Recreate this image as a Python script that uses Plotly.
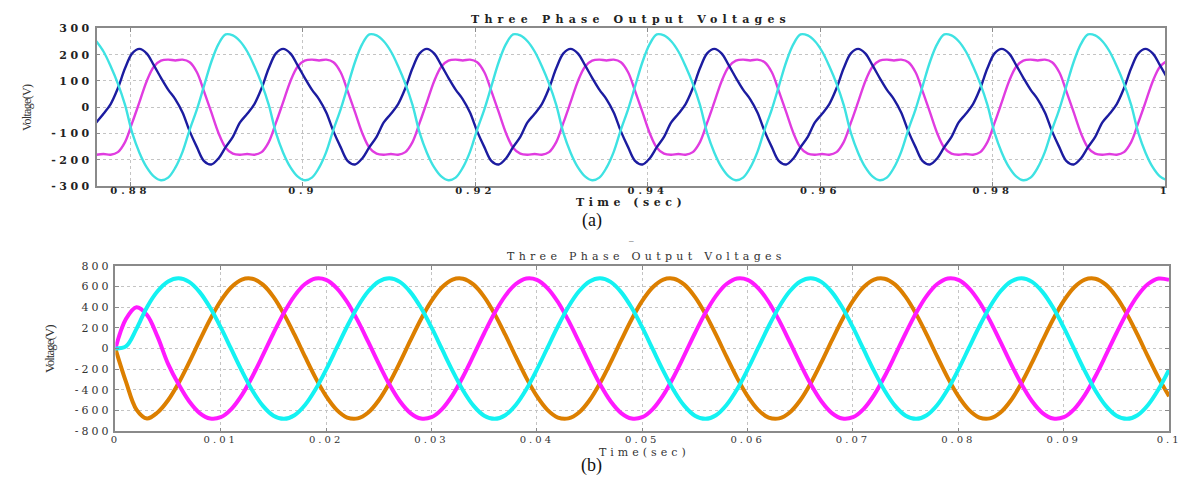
import numpy as np
import plotly.graph_objects as go

# ---- (a) 60 Hz output, sampled every 1/1200 s from t0 ----
TOP_T0 = 0.87605
TOP_DT = 1 / 1200

top_blue = [
    -58, -25, 12, 72, 148, 205,
    222, 205, 160, 112, 67, 30, -20, -92, -152, -205, -218, -195, -152, -113, -58, -25, 12, 72, 148, 205,
    222, 205, 160, 112, 67, 30, -20, -92, -152, -205, -218, -195, -152, -113, -58, -25, 12, 72, 148, 205,
    222, 205, 160, 112, 67, 30, -20, -92, -152, -205, -218, -195, -152, -113, -58, -25, 12, 72, 148, 205,
    222, 205, 160, 112, 67, 30, -20, -92, -152, -205, -218, -195, -152, -113, -58, -25, 12, 72, 148, 205,
    222, 205, 160, 112, 67, 30, -20, -92, -152, -205, -218, -195, -152, -113, -58, -25, 12, 72, 148, 205,
    222, 205, 160, 112, 67, 30, -20, -92, -152, -205, -218, -195, -152, -113, -58, -25, 12, 72, 148, 205,
    222, 205, 160, 112, 67, 30, -20, -92, -152, -205, -218, -195, -152, -113, -58, -25, 12, 72, 148, 205,
    222, 205, 160, 112,
]
top_magenta = [
    -181, -178, -181, -171, -133, -59,
    19, 98, 154, 177, 181, 178, 181, 171, 133, 59, -19, -98, -154, -177, -181, -178, -181, -171, -133, -59,
    19, 98, 154, 177, 181, 178, 181, 171, 133, 59, -19, -98, -154, -177, -181, -178, -181, -171, -133, -59,
    19, 98, 154, 177, 181, 178, 181, 171, 133, 59, -19, -98, -154, -177, -181, -178, -181, -171, -133, -59,
    19, 98, 154, 177, 181, 178, 181, 171, 133, 59, -19, -98, -154, -177, -181, -178, -181, -171, -133, -59,
    19, 98, 154, 177, 181, 178, 181, 171, 133, 59, -19, -98, -154, -177, -181, -178, -181, -171, -133, -59,
    19, 98, 154, 177, 181, 178, 181, 171, 133, 59, -19, -98, -154, -177, -181, -178, -181, -171, -133, -59,
    19, 98, 154, 177, 181, 178, 181, 171, 133, 59, -19, -98, -154, -177, -181, -178, -181, -171, -133, -59,
    19, 98, 154, 177,
]
top_cyan = [
    251, 212, 156, 90, 9, -98,
    -173, -228, -263, -278, -268, -230, -170, -85, -8, 82, 172, 240, 277, 273, 251, 212, 156, 90, 9, -98,
    -173, -228, -263, -278, -268, -230, -170, -85, -8, 82, 172, 240, 277, 273, 251, 212, 156, 90, 9, -98,
    -173, -228, -263, -278, -268, -230, -170, -85, -8, 82, 172, 240, 277, 273, 251, 212, 156, 90, 9, -98,
    -173, -228, -263, -278, -268, -230, -170, -85, -8, 82, 172, 240, 277, 273, 251, 212, 156, 90, 9, -98,
    -173, -228, -263, -278, -268, -230, -170, -85, -8, 82, 172, 240, 277, 273, 251, 212, 156, 90, 9, -98,
    -173, -228, -263, -278, -268, -230, -170, -85, -8, 82, 172, 240, 277, 273, 251, 212, 156, 90, 9, -98,
    -173, -228, -263, -278, -268, -230, -170, -85, -8, 82, 172, 240, 277, 273, 251, 212, 156, 90, 9, -98,
    -173, -228, -263, -278,
]

# ---- (b) 50 Hz output, sampled every 1 ms from 0 ----
BOT_T0 = 0.0
BOT_DT = 0.001

bot_orange = [
    0, -320, -590, -676, -618,
    -500, -333, -134, 79, 284, 461, 593, 667, 675, 618, 500, 333, 134, -79, -284,
    -461, -593, -667, -675, -618, -500, -333, -134, 79, 284, 461, 593, 667, 675, 618, 500, 333, 134, -79, -284,
    -461, -593, -667, -675, -618, -500, -333, -134, 79, 284, 461, 593, 667, 675, 618, 500, 333, 134, -79, -284,
    -461, -593, -667, -675, -618, -500, -333, -134, 79, 284, 461, 593, 667, 675, 618, 500, 333, 134, -79, -284,
    -461, -593, -667, -675, -618, -500, -333, -134, 79, 284, 461, 593, 667, 675, 618, 500, 333, 134, -79, -284,
    -461,
]
bot_magenta = [
    0, 285, 400, 325, 115,
    -148, -346, -510, -624, -677, -664, -585, -450, -270, -64, 148, 346, 510, 624, 677,
    664, 585, 450, 270, 64, -148, -346, -510, -624, -677, -664, -585, -450, -270, -64, 148, 346, 510, 624, 677,
    664, 585, 450, 270, 64, -148, -346, -510, -624, -677, -664, -585, -450, -270, -64, 148, 346, 510, 624, 677,
    664, 585, 450, 270, 64, -148, -346, -510, -624, -677, -664, -585, -450, -270, -64, 148, 346, 510, 624, 677,
    664, 585, 450, 270, 64, -148, -346, -510, -624, -677, -664, -585, -450, -270, -64, 148, 346, 510, 624, 677,
    664,
]
bot_cyan = [
    0, 20, 190, 400,
    554, 649, 680, 645, 546, 394, 204, -6, -216, -405, -554, -649, -680, -645, -546, -394,
    -204, 6, 216, 405, 554, 649, 680, 645, 546, 394, 204, -6, -216, -405, -554, -649, -680, -645, -546, -394,
    -204, 6, 216, 405, 554, 649, 680, 645, 546, 394, 204, -6, -216, -405, -554, -649, -680, -645, -546, -394,
    -204, 6, 216, 405, 554, 649, 680, 645, 546, 394, 204, -6, -216, -405, -554, -649, -680, -645, -546, -394,
    -204, 6, 216, 405, 554, 649, 680, 645, 546, 394, 204, -6, -216, -405, -554, -649, -680, -645, -546, -394,
    -204,
]

top_xticks = [0.88, 0.9, 0.92, 0.94, 0.96, 0.98, 1.0]
top_xlabels = ['0.88', '0.9', '0.92', '0.94', '0.96', '0.98', '1']
top_yticks = [-300, -200, -100, 0, 100, 200, 300]
bot_xticks = [0, 0.01, 0.02, 0.03, 0.04, 0.05, 0.06, 0.07, 0.08, 0.09, 0.1]
bot_xlabels = ['0', '0.01', '0.02', '0.03', '0.04', '0.05', '0.06', '0.07', '0.08', '0.09', '0.1']
bot_yticks = [-800, -600, -400, -200, 0, 200, 400, 600, 800]


def spaced(text, gap):
    return f'<span style="letter-spacing:{gap}px">{text}</span>'


def sample_times(t0, dt, values):
    return t0 + dt * np.arange(len(values))


t_top = sample_times(TOP_T0, TOP_DT, top_blue)
t_bot = sample_times(BOT_T0, BOT_DT, bot_orange)

fig = go.Figure()

for vals, color in [(top_magenta, '#e03ce0'), (top_blue, '#1c1ca0'), (top_cyan, '#3ee2e2')]:
    fig.add_trace(go.Scatter(x=t_top, y=vals, mode='lines', line=dict(color=color, width=2.4, shape='spline'),
                             xaxis='x', yaxis='y', showlegend=False))

for vals, color in [(bot_orange, '#dc7f00'), (bot_magenta, '#ff1aff'), (bot_cyan, '#14f2f2')]:
    fig.add_trace(go.Scatter(x=t_bot, y=vals, mode='lines', line=dict(color=color, width=4, shape='spline'),
                             xaxis='x2', yaxis='y2', showlegend=False))

axis_common = dict(
    showgrid=True, gridcolor='#c4c4c4', gridwidth=1, griddash='dot',
    showline=True, mirror='ticks', linecolor='#8a8a8a', linewidth=1.5,
    ticks='inside', ticklen=4, tickcolor='#8a8a8a', zeroline=False,
)
top_font = dict(family='DejaVu Serif', size=11, color='#222222', weight='bold')
top_xfont = dict(family='DejaVu Serif', size=10, color='#222222', weight='bold')
bot_font = dict(family='DejaVu Serif', size=11, color='#333333')
bot_xfont = dict(family='DejaVu Serif', size=10, color='#333333')

fig.update_layout(
    width=1190, height=485, autosize=False,
    margin=dict(l=0, r=0, t=0, b=0),
    paper_bgcolor='white', plot_bgcolor='white',
    xaxis=dict(domain=[0.0782, 0.9891], range=[0.8761, 1.0], anchor='y',
               tickvals=top_xticks, ticktext=[spaced(s, 4) for s in top_xlabels],
               tickfont=top_xfont, ticklabelstandoff=-6, **axis_common),
    yaxis=dict(domain=[0.6186, 0.9526], range=[-300, 300], anchor='x',
               tickvals=top_yticks, ticktext=[spaced(str(v), 3.5) for v in top_yticks],
               tickfont=top_font, **axis_common),
    xaxis2=dict(domain=[0.0941, 0.9924], range=[0, 0.1], anchor='y2',
                tickvals=bot_xticks, ticktext=[spaced(s, 3) for s in bot_xlabels],
                tickfont=bot_xfont, ticklabelstandoff=-2, **axis_common),
    yaxis2=dict(domain=[0.0990, 0.4495], range=[-800, 800], anchor='x2',
                tickvals=bot_yticks, ticktext=[spaced(str(v), 3) for v in bot_yticks],
                tickfont=bot_font, **axis_common),
)

serif_bold = dict(family='DejaVu Serif', size=11, color='#222222', weight='bold')
serif = dict(family='DejaVu Serif', size=11, color='#333333')
times = dict(family='Liberation Serif', size=18, color='#111111')

labels = [
    (0.5336, 0.9711, spaced('Three Phase Output Voltages', 5.2), serif_bold, 0, 'middle'),
    (0.5336, 0.5835, spaced('Time (sec)', 4.5), serif_bold, 0, 'middle'),
    (0.0185, 0.7856, spaced('Voltage(V)', -0.7), dict(family='Liberation Serif', size=12, color='#333333'), -90, 'middle'),
    (0.500, 0.5464, '(a)', times, 0, 'middle'),
    (0.5336, 0.505, '–', dict(family='Liberation Serif', size=9, color='#444444'), 0, 'middle'),
    (0.547, 0.470, spaced('Three Phase Output Voltages', 4.3), serif, 0, 'middle'),
    (0.545, 0.055, spaced('Time(sec)', 4), serif, 0, 'middle'),
    (0.0378, 0.274, spaced('Voltage(V)', -1), dict(family='Liberation Serif', size=13, color='#333333'), -90, 'middle'),
    (0.500, 0.0, '(b)', times, 0, 'bottom'),
]
for x, y, text, font, angle, yanc in labels:
    fig.add_annotation(x=x, y=y, xref='paper', yref='paper', text=text, showarrow=False,
                       font=font, textangle=angle, xanchor='center', yanchor=yanc)

fig.write_html("out.html", config={'displayModeBar': False},
               post_script="document.body.style.margin='0';")
